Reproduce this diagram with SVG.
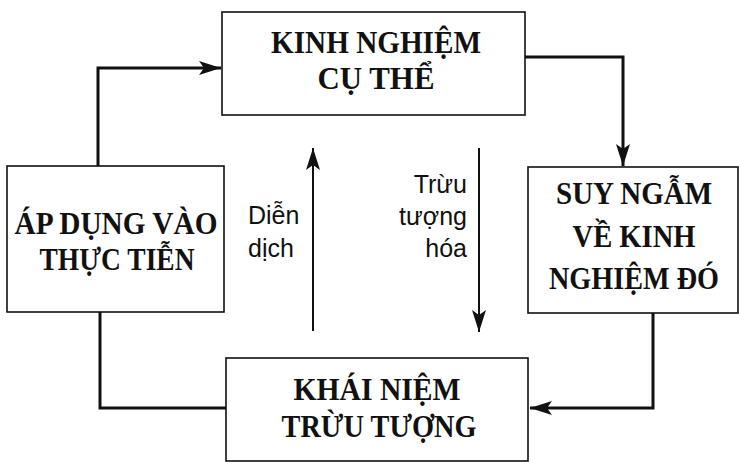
<svg xmlns="http://www.w3.org/2000/svg" width="739" height="462" viewBox="0 0 739 462">
<style>
.box{fill:#fff;stroke:#111;stroke-width:1.6}
.t{font-family:"Liberation Serif","Times New Roman",serif;font-weight:bold;fill:#111;text-anchor:middle}
.big{font-size:32px}
.mid{font-size:31px}
.lbl{font-family:"Liberation Sans",Arial,sans-serif;font-size:25px;fill:#111}
.con{fill:none;stroke:#111;stroke-width:3}
.thin{fill:none;stroke:#111;stroke-width:2}
</style>
<defs>
<marker id="ah" markerUnits="userSpaceOnUse" markerWidth="24" markerHeight="14" refX="22" refY="7" orient="auto">
<path d="M0,0 L22,7 L0,14 L5,7 Z" fill="#111"/>
</marker>
</defs>
<rect width="739" height="462" fill="#fff"/>
<g id="connectors">
<path class="con" d="M98,166 V68 H221" marker-end="url(#ah)"/>
<path class="con" d="M525,57 H623 V166" marker-end="url(#ah)"/>
<path class="con" d="M653,313 V408 H530" marker-end="url(#ah)"/>
<path class="con" d="M100,312 V408 H226"/>
<path class="thin" d="M313,331 V148" marker-end="url(#ah)"/>
<path class="thin" d="M479,148 V332" marker-end="url(#ah)"/>
</g>
<g id="kinh-nghiem">
<rect class="box" x="222" y="12" width="303" height="103"/>
<text class="t mid" x="376" y="53" textLength="210" lengthAdjust="spacingAndGlyphs">KINH NGHIỆM</text>
<text class="t mid" x="376" y="89" textLength="117" lengthAdjust="spacingAndGlyphs">CỤ THỂ</text>
</g>
<g id="suy-ngam">
<rect class="box" x="528" y="167" width="210" height="146"/>
<text class="t big" x="634" y="204" textLength="156" lengthAdjust="spacingAndGlyphs">SUY NGẪM</text>
<text class="t big" x="634" y="247" textLength="123" lengthAdjust="spacingAndGlyphs">VỀ KINH</text>
<text class="t big" x="634" y="289" textLength="170" lengthAdjust="spacingAndGlyphs">NGHIỆM ĐÓ</text>
</g>
<g id="ap-dung">
<rect class="box" x="7" y="166" width="217" height="146"/>
<text class="t big" x="116" y="234" textLength="203" lengthAdjust="spacingAndGlyphs">ÁP DỤNG VÀO</text>
<text class="t big" x="117" y="270" textLength="155" lengthAdjust="spacingAndGlyphs">THỰC TIỄN</text>
</g>
<g id="khai-niem">
<rect class="box" x="226" y="358" width="302" height="103"/>
<text class="t mid" x="377" y="400" textLength="167" lengthAdjust="spacingAndGlyphs">KHÁI NIỆM</text>
<text class="t mid" x="379" y="437" textLength="195" lengthAdjust="spacingAndGlyphs">TRỪU TƯỢNG</text>
</g>
<g id="labels">
<text class="lbl" x="248" y="224">Diễn</text>
<text class="lbl" x="248" y="257">dịch</text>
<text class="lbl" x="467" y="193" text-anchor="end">Trừu</text>
<text class="lbl" x="467" y="225" text-anchor="end">tượng</text>
<text class="lbl" x="467" y="257" text-anchor="end">hóa</text>
</g>
</svg>
